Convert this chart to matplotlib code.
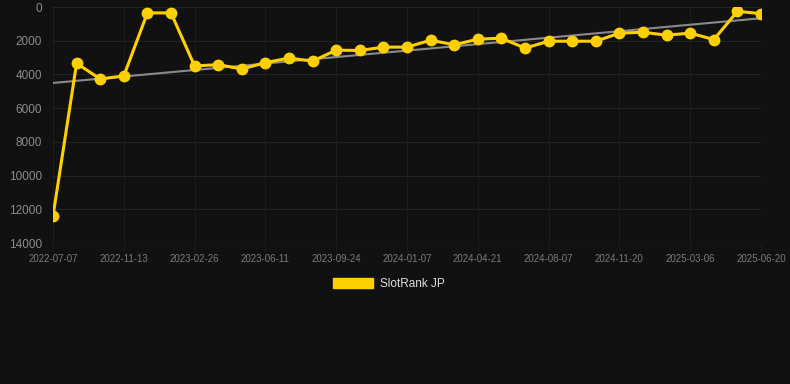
import matplotlib
matplotlib.use("Agg")
import matplotlib.pyplot as plt
import numpy as np
from matplotlib.patches import Patch

plt.rcParams['font.family'] = ['Liberation Sans', 'DejaVu Sans']

tick_labels = ["2022-07-07", "2022-11-13", "2023-02-26", "2023-06-11", "2023-09-24",
               "2024-01-07", "2024-04-21", "2024-08-07", "2024-11-20", "2025-03-06",
               "2025-06-20"]
rank_jp = [12400, 3340, 4270, 4090, 350, 350, 3500, 3420, 3680, 3300, 3030, 3210,
           2560, 2580, 2380, 2380, 1970, 2240, 1910, 1850, 2440, 2030, 2030, 2030,
           1550, 1500, 1670, 1550, 1930, 260, 390]
y_ticks = [0, 2000, 4000, 6000, 8000, 10000, 12000, 14000]
series_name = "SlotRank JP"

bg = "#111111"
gold = "#FFD000"

fig = plt.figure(figsize=(7.9, 3.84), dpi=100, facecolor=bg)
ax = fig.add_axes([53/790, 1-243/384, (761-53)/790, (243-7)/384])
ax.set_facecolor(bg)

x = np.arange(len(rank_jp))
coef = np.polyfit(x, rank_jp, 1)
ax.plot(x, np.polyval(coef, x), color="#8a8a8a", lw=1.5, zorder=2)
ax.plot(x, rank_jp, color=gold, lw=2.2, marker='o', markersize=7.5,
        markerfacecolor=gold, markeredgecolor=gold, zorder=3)

ax.set_xlim(0, len(rank_jp) - 1)
ax.set_ylim(14000, 0)
ax.set_yticks(y_ticks)
ax.set_yticklabels([str(v) for v in y_ticks])
ax.set_xticks(np.arange(0, len(rank_jp), 3))
ax.set_xticklabels(tick_labels)

ax.grid(True, axis='y', color="#222222", lw=0.8)
ax.grid(True, axis='x', color="#1c1c1c", lw=0.8)
ax.set_axisbelow(True)
for s in ax.spines.values():
    s.set_visible(False)
ax.axhline(14000, color="#2e2e2e", lw=0.8, zorder=1)
ax.tick_params(axis='y', length=0, pad=8, labelsize=8.5, colors="#8c8c8c")
ax.tick_params(axis='x', length=6, width=0.8, color="#1c1c1c", pad=2,
               labelsize=7, labelcolor="#7a7a7a")

handle = Patch(facecolor=gold, edgecolor=gold)
leg = fig.legend([handle], [series_name], loc='center', bbox_to_anchor=(389/790, 1-284/384),
                 frameon=False, fontsize=8.5, handlelength=3.4, handleheight=1.0,
                 handletextpad=0.55, labelcolor="#dddddd")

fig.savefig("out.png", dpi=100, facecolor=bg)
